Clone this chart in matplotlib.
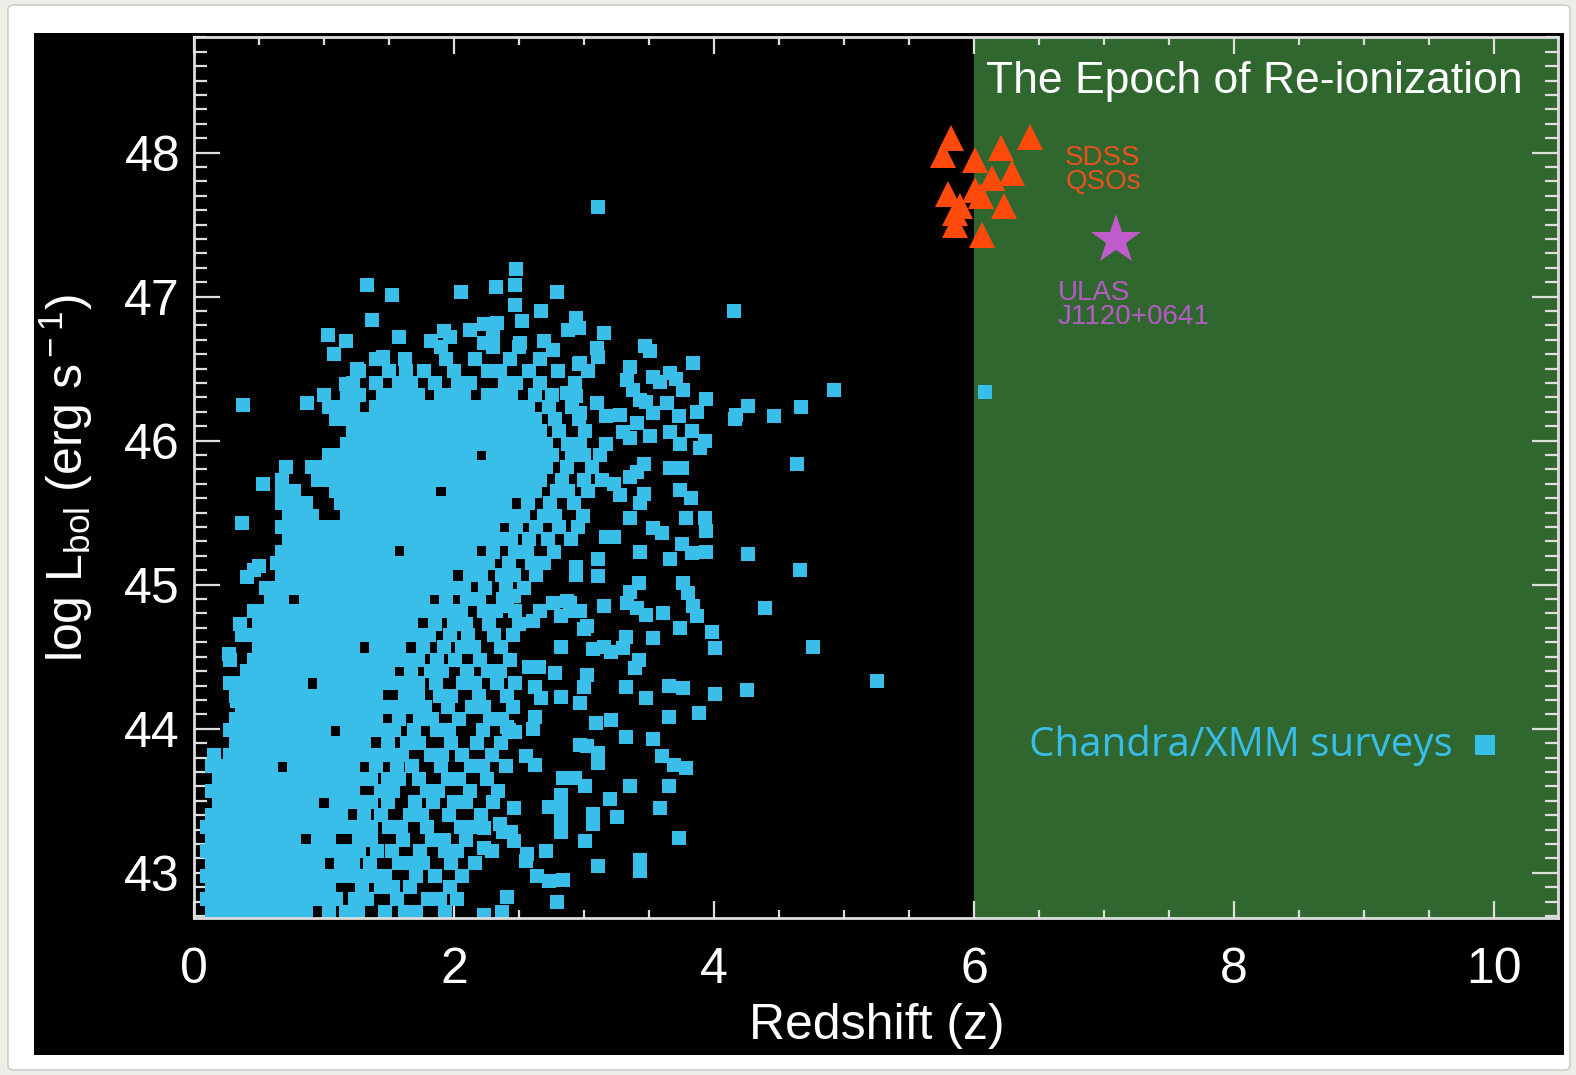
import matplotlib
matplotlib.use("Agg")
import matplotlib.pyplot as plt
from matplotlib.patches import Rectangle, FancyBboxPatch
from matplotlib.ticker import MultipleLocator

plt.rcParams['font.family'] = ['Liberation Sans', 'DejaVu Sans']
plt.rcParams['mathtext.fontset'] = 'custom'
plt.rcParams['mathtext.rm'] = 'Liberation Sans'
plt.rcParams['mathtext.it'] = 'Liberation Sans:italic'
plt.rcParams['mathtext.bf'] = 'Liberation Sans:bold'

# ---------------- data ----------------
# Chandra/XMM surveys: dense core, one list of redshifts per log L row
xmm_row_L = [42.73, 42.82, 42.90, 42.98, 43.07, 43.15, 43.23, 43.32, 43.40, 43.49,
             43.57, 43.65, 43.74, 43.82, 43.90, 43.99, 44.07, 44.15, 44.23, 44.32,
             44.40, 44.48, 44.57, 44.65, 44.73, 44.82, 44.90, 44.98, 45.07, 45.15,
             45.23, 45.32, 45.40, 45.48, 45.57, 45.65, 45.73, 45.82, 45.90, 45.98,
             46.07, 46.15, 46.23, 46.32, 46.40, 46.48, 46.57, 46.65]
xmm_row_z = [
    [0.14,0.23,0.32,0.41,0.50,0.59,0.68,0.77,0.86,1.04,1.17,1.26,1.47,1.62,1.71,1.93],
    [0.10,0.19,0.28,0.37,0.46,0.55,0.64,0.73,0.82,0.91,1.00,1.09,1.24,1.33,1.56,1.80,1.89,2.02],
    [0.14,0.23,0.32,0.41,0.50,0.59,0.68,0.77,0.86,0.95,1.04,1.29,1.44,1.53,1.66,1.97],
    [0.10,0.19,0.28,0.37,0.46,0.55,0.64,0.73,0.82,0.91,1.00,1.09,1.18,1.27,1.38,1.47,1.71,1.85,2.06],
    [0.14,0.23,0.32,0.41,0.50,0.59,0.68,0.77,0.86,0.95,1.13,1.22,1.35,1.58,1.67,1.76,1.98,2.16],
    [0.10,0.19,0.28,0.37,0.46,0.55,0.64,0.73,0.82,0.91,1.00,1.09,1.18,1.27,1.41,1.52,1.74,1.93,2.02,2.29],
    [0.14,0.23,0.32,0.41,0.50,0.59,0.68,0.77,0.95,1.04,1.27,1.36,1.61,1.83,1.92,2.09],
    [0.10,0.19,0.28,0.37,0.46,0.55,0.64,0.73,0.82,0.91,1.00,1.09,1.18,1.27,1.36,1.50,1.59,1.79,2.05,2.14],
    [0.14,0.23,0.32,0.41,0.50,0.59,0.68,0.77,0.86,0.95,1.04,1.13,1.31,1.44,1.66,1.75,1.96,2.21],
    [0.19,0.28,0.37,0.46,0.55,0.64,0.73,0.82,0.91,1.09,1.18,1.27,1.36,1.49,1.70,1.84,2.00,2.09,2.30],
    [0.14,0.23,0.32,0.41,0.50,0.59,0.68,0.77,0.86,0.95,1.04,1.13,1.22,1.44,1.53,1.79,1.88,2.12,2.34],
    [0.19,0.28,0.37,0.46,0.55,0.64,0.73,0.82,0.91,1.00,1.09,1.18,1.27,1.36,1.49,1.58,1.73,1.95,2.04,2.25],
    [0.14,0.23,0.32,0.41,0.50,0.59,0.77,0.86,0.95,1.04,1.13,1.22,1.40,1.56,1.68,1.90,2.13,2.22,2.40],
    [0.15,0.28,0.37,0.46,0.55,0.64,0.73,0.82,0.91,1.00,1.09,1.18,1.27,1.36,1.45,1.54,1.60,1.82,1.91,2.06,2.29],
    [0.32,0.41,0.50,0.59,0.68,0.77,0.86,0.95,1.04,1.13,1.22,1.31,1.49,1.64,1.73,1.98,2.18,2.36],
    [0.28,0.37,0.46,0.55,0.64,0.73,0.82,0.91,1.00,1.18,1.27,1.36,1.45,1.54,1.69,1.87,1.96,2.22,2.42],
    [0.32,0.41,0.50,0.59,0.68,0.77,0.86,0.95,1.04,1.13,1.22,1.31,1.40,1.58,1.74,1.83,2.04,2.28,2.37],
    [0.37,0.46,0.55,0.64,0.73,0.82,0.91,1.00,1.09,1.18,1.27,1.36,1.45,1.54,1.63,1.72,1.78,1.95,2.14,2.23,2.45],
    [0.32,0.41,0.50,0.59,0.68,0.77,0.86,0.95,1.04,1.13,1.22,1.31,1.40,1.62,1.72,1.89,1.98,2.19,2.41],
    [0.28,0.37,0.46,0.55,0.64,0.73,0.82,1.00,1.09,1.18,1.27,1.36,1.45,1.54,1.63,1.72,1.86,2.07,2.16,2.33,2.47],
    [0.41,0.50,0.59,0.68,0.77,0.86,0.95,1.04,1.13,1.22,1.31,1.40,1.49,1.67,1.82,1.91,2.10,2.26,2.35],
    [0.28,0.46,0.55,0.64,0.73,0.82,0.91,1.00,1.09,1.18,1.27,1.36,1.45,1.54,1.63,1.72,1.87,2.01,2.20,2.43],
    [0.50,0.59,0.68,0.77,0.86,0.95,1.04,1.13,1.22,1.40,1.49,1.58,1.76,1.92,2.06,2.15,2.36],
    [0.37,0.46,0.55,0.64,0.73,0.82,0.91,1.00,1.09,1.18,1.27,1.36,1.45,1.54,1.63,1.72,1.81,1.97,2.11,2.31,2.45],
    [0.50,0.59,0.68,0.77,0.86,0.95,1.04,1.13,1.22,1.31,1.40,1.49,1.58,1.67,1.85,2.00,2.09,2.27,2.50],
    [0.46,0.55,0.64,0.73,0.82,0.91,1.00,1.09,1.18,1.27,1.36,1.45,1.54,1.63,1.72,1.81,1.90,1.99,2.05,2.23,2.32,2.47],
    [0.59,0.68,0.86,0.95,1.04,1.13,1.22,1.31,1.40,1.49,1.58,1.67,1.76,1.94,2.10,2.19,2.38],
    [0.55,0.64,0.73,0.82,0.91,1.00,1.09,1.18,1.27,1.36,1.45,1.54,1.63,1.72,1.81,1.90,1.99,2.08,2.24,2.40,2.54],
    [0.68,0.77,0.86,0.95,1.04,1.13,1.22,1.31,1.40,1.49,1.58,1.67,1.76,1.85,1.94,2.12,2.21,2.37,2.46,2.63],
    [0.64,0.73,0.82,0.91,1.00,1.09,1.18,1.27,1.36,1.45,1.54,1.63,1.72,1.81,1.90,1.99,2.08,2.17,2.26,2.42,2.60,2.69],
    [0.68,0.77,0.86,0.95,1.04,1.13,1.22,1.31,1.40,1.49,1.67,1.76,1.85,1.94,2.03,2.12,2.30,2.47,2.56,2.77],
    [0.73,0.82,0.91,1.00,1.09,1.18,1.27,1.36,1.45,1.54,1.63,1.72,1.81,1.90,1.99,2.08,2.17,2.26,2.35,2.44,2.58,2.72,2.90],
    [0.68,0.77,0.86,0.95,1.04,1.13,1.22,1.31,1.40,1.49,1.58,1.67,1.76,1.85,1.94,2.03,2.12,2.21,2.30,2.48,2.63,2.81,2.95],
    [0.73,0.82,0.91,1.18,1.27,1.36,1.45,1.54,1.63,1.72,1.81,1.90,1.99,2.08,2.17,2.26,2.35,2.44,2.53,2.69,2.78,2.99],
    [0.68,0.77,0.86,1.13,1.22,1.31,1.40,1.49,1.58,1.67,1.76,1.85,1.94,2.03,2.12,2.21,2.30,2.39,2.57,2.74,2.92],
    [0.68,0.77,1.09,1.18,1.27,1.36,1.45,1.54,1.63,1.72,1.81,1.99,2.08,2.17,2.26,2.35,2.44,2.53,2.62,2.79,2.88,3.03],
    [0.68,0.95,1.04,1.13,1.22,1.31,1.40,1.49,1.58,1.67,1.76,1.85,1.94,2.03,2.12,2.21,2.30,2.39,2.48,2.57,2.66,2.83,3.00,3.14],
    [0.71,0.91,1.00,1.09,1.18,1.27,1.36,1.45,1.54,1.63,1.72,1.81,1.90,1.99,2.08,2.17,2.26,2.35,2.44,2.53,2.62,2.71,2.87,3.06],
    [1.04,1.13,1.22,1.31,1.40,1.49,1.58,1.67,1.76,1.85,1.94,2.03,2.12,2.30,2.39,2.48,2.57,2.66,2.75,2.91,3.00,3.12],
    [1.18,1.27,1.36,1.45,1.54,1.63,1.72,1.81,1.90,1.99,2.08,2.17,2.26,2.35,2.44,2.53,2.62,2.71,2.88,2.97,3.17],
    [1.22,1.31,1.40,1.49,1.58,1.67,1.76,1.85,1.94,2.03,2.12,2.21,2.30,2.39,2.48,2.57,2.66,2.81,3.01],
    [1.09,1.18,1.27,1.36,1.45,1.54,1.63,1.72,1.81,1.90,1.99,2.08,2.17,2.26,2.35,2.44,2.53,2.62,2.78,2.96],
    [1.04,1.13,1.22,1.40,1.49,1.58,1.67,1.76,1.85,1.94,2.03,2.12,2.21,2.30,2.39,2.48,2.57,2.73,2.91],
    [1.00,1.18,1.27,1.45,1.54,1.63,1.72,1.90,1.99,2.08,2.26,2.35,2.44,2.62,2.75],
    [1.22,1.40,1.58,1.67,1.85,2.03,2.12,2.39,2.48,2.66,2.93],
    [1.27,1.50,1.63,1.77,2.00,2.26,2.35,2.58,2.80],
    [1.40,1.62,1.94,2.16,2.43,2.66],
    [1.90,2.30,2.50],
]

# Chandra/XMM surveys: individual sources around the core
xmm_extra_z = [3.11, 4.15, 4.92, 6.08, 5.25, 4.76, 4.39, 4.66, 4.26, 4.25, 4.64, 4.67, 4.46, 4.26, 4.17,
               4.16, 3.94, 3.87, 3.84, 3.66, 3.71, 3.76, 3.53, 3.58, 3.35, 3.33, 3.38, 3.43, 3.48, 3.64,
               3.53, 3.73, 3.83, 3.93, 3.89, 3.66, 3.74, 3.51, 3.30, 3.35, 3.41, 3.28, 3.17, 3.10, 2.97,
               2.94, 2.87, 2.97, 3.03, 3.15, 2.94, 2.96, 2.88, 3.10, 3.11, 3.47, 3.51, 3.46, 3.41, 3.35,
               3.66, 3.75, 3.74, 3.82, 3.23, 3.28, 3.46, 3.43, 3.35, 3.53, 3.60, 3.78, 3.93, 3.94, 3.17,
               3.23, 3.43, 3.66, 3.75, 3.83, 3.94, 3.11, 3.11, 2.94, 2.94, 3.76, 3.80, 3.84, 3.87, 3.42,
               3.35, 3.33, 3.41, 3.48, 3.15, 3.61, 2.87, 2.92, 3.00, 3.74, 3.98, 4.01, 3.53, 3.32, 3.30,
               3.07, 3.15, 3.21, 3.42, 3.39, 3.02, 3.00, 3.32, 3.65, 3.76, 4.01, 3.48, 3.88, 3.65, 3.21,
               3.09, 3.32, 3.53, 3.60, 3.69, 3.78, 2.97, 3.02, 3.11, 3.11, 2.97, 2.78, 2.82, 2.58, 2.65,
               2.62, 2.67, 2.62, 2.61, 2.47, 2.55, 2.62, 2.84, 2.93, 3.01, 2.82, 2.82, 2.73, 3.20, 3.35,
               3.65, 3.58, 3.25, 3.07, 3.07, 2.82, 2.82, 2.46, 2.35, 2.44, 2.46, 2.23, 2.23, 3.01, 3.73,
               2.56, 2.55, 2.71, 3.11, 3.43, 3.43, 2.64, 2.73, 2.84, 2.41, 2.79, 2.37, 2.23, 2.76, 2.89,
               2.97, 2.66, 2.61, 3.02, 2.82, 2.46, 2.41, 2.82, 0.38, 0.87, 0.53, 0.37, 0.46, 0.41, 0.50,
               0.35, 0.40, 0.27, 0.33, 1.33, 1.52, 1.37, 2.05, 2.32, 2.47, 2.48, 2.47, 2.79, 2.67, 2.52,
               2.33, 2.23, 2.12, 1.92, 1.97, 1.82, 1.58, 1.03, 1.17, 1.08, 1.25, 1.17, 2.23, 2.30, 2.51,
               2.69, 2.76, 2.96, 1.45, 2.41, 2.38]
xmm_extra_L = [47.62, 46.90, 46.35, 46.34, 44.33, 44.57, 44.84, 45.10, 45.21, 44.27, 45.84, 46.23, 46.17, 46.24, 46.18,
               46.15, 46.29, 46.20, 46.54, 46.47, 46.43, 46.35, 46.44, 46.41, 46.51, 46.42, 46.35, 46.28, 46.27, 46.26,
               46.19, 46.17, 46.07, 46.00, 45.95, 46.06, 45.98, 46.03, 46.06, 46.02, 46.12, 46.18, 46.17, 46.26, 46.19,
               46.31, 46.33, 46.54, 46.48, 46.75, 46.85, 46.78, 46.77, 46.64, 46.58, 46.66, 46.62, 45.84, 45.78, 45.75,
               45.81, 45.81, 45.66, 45.60, 45.70, 45.62, 45.63, 45.57, 45.46, 45.39, 45.36, 45.46, 45.46, 45.37, 45.33,
               45.33, 45.23, 45.18, 45.28, 45.22, 45.23, 45.18, 45.06, 45.12, 45.07, 45.01, 44.94, 44.85, 44.78, 45.01,
               44.95, 44.87, 44.84, 44.79, 44.85, 44.80, 44.89, 44.82, 44.69, 44.70, 44.67, 44.56, 44.63, 44.64, 44.56,
               44.55, 44.57, 44.53, 44.48, 44.42, 44.37, 44.29, 44.29, 44.30, 44.28, 44.24, 44.21, 44.11, 44.08, 44.06,
               44.04, 43.94, 43.93, 43.81, 43.75, 43.73, 43.89, 43.88, 43.83, 43.76, 44.18, 44.39, 44.22, 44.43, 44.43,
               44.29, 44.21, 44.08, 44.00, 43.98, 43.81, 43.75, 43.66, 43.66, 43.60, 43.54, 43.47, 43.46, 43.51, 43.60,
               43.60, 43.45, 43.39, 43.41, 43.34, 43.37, 43.28, 43.45, 43.34, 43.28, 43.22, 43.31, 43.17, 43.22, 43.24,
               43.13, 43.08, 43.15, 43.05, 43.09, 43.01, 42.98, 42.94, 42.95, 42.83, 42.80, 42.73, 42.71, 44.87, 44.87,
               44.82, 44.82, 44.75, 44.71, 44.78, 44.92, 44.85, 44.57, 46.25, 46.26, 45.70, 45.43, 45.10, 45.05, 45.13,
               44.73, 44.65, 44.52, 44.19, 47.08, 47.01, 46.84, 47.03, 47.07, 47.08, 47.19, 46.94, 47.03, 46.90, 46.83,
               46.82, 46.81, 46.77, 46.76, 46.72, 46.69, 46.72, 46.73, 46.69, 46.60, 46.50, 46.39, 46.68, 46.72, 46.68,
               46.69, 46.63, 46.53, 46.58, 44.01, 43.28]

# SDSS QSOs (triangles)
sdss_z = [5.82, 5.76, 6.01, 6.21, 6.43, 6.29, 6.14, 6.01, 6.05, 5.80, 6.23, 5.85, 5.85, 6.06, 5.89]
sdss_L = [48.10, 47.98, 47.95, 48.03, 48.11, 47.86, 47.82, 47.74, 47.70, 47.71, 47.63, 47.58, 47.50, 47.43, 47.63]

# ULAS J1120+0641 (star)
ulas_z = [7.09]
ulas_L = [47.39]

# axis settings
x_limits = [0.0, 10.49]
y_limits = [42.686, 48.80]
x_ticks = [0, 2, 4, 6, 8, 10]
y_ticks = [43, 44, 45, 46, 47, 48]
reion_start = 6.0

# ---------------- styling ----------------
W, H = 1576, 1075
C_SQ = '#39bde9'
C_TRI = '#ff4a0c'
C_STAR = '#c05ccc'
C_GREEN = '#2f672f'
C_AX = '#dedede'

fig = plt.figure(figsize=(W / 100, H / 100), dpi=100)
fig.patch.set_facecolor('#efede8')

def fx(px):
    return px / W

def fy(py):
    return 1 - py / H

card = FancyBboxPatch((fx(8), fy(1070)), fx(1570) - fx(8), fy(5) - fy(1070),
                      boxstyle='round,pad=0,rounding_size=0.004', transform=fig.transFigure,
                      facecolor='white', edgecolor='#cfcdc8', linewidth=1.2, zorder=-3)
fig.add_artist(card)
panel = Rectangle((fx(34), fy(1055)), fx(1564) - fx(34), fy(33) - fy(1055),
                  transform=fig.transFigure, facecolor='black', edgecolor='none', zorder=-2)
fig.add_artist(panel)

ax = fig.add_axes([fx(194), fy(918), fx(1558) - fx(194), fy(37.3) - fy(918)])
ax.set_facecolor('black')
ax.set_xlim(*x_limits)
ax.set_ylim(*y_limits)

ax.axvspan(reion_start, x_limits[1], facecolor=C_GREEN, edgecolor='none', zorder=0.5)

# XMM squares
for Lrow, zlist in zip(xmm_row_L, xmm_row_z):
    ax.plot(zlist, [Lrow] * len(zlist), linestyle='none', marker='s', markersize=9.4,
            markerfacecolor=C_SQ, markeredgewidth=0, zorder=2)
ax.plot(xmm_extra_z, xmm_extra_L, linestyle='none', marker='s', markersize=9.4,
        markerfacecolor=C_SQ, markeredgewidth=0, zorder=2)

# SDSS triangles
ax.plot(sdss_z, sdss_L, linestyle='none', marker='^', markersize=19,
        markerfacecolor=C_TRI, markeredgewidth=0, zorder=3)
# ULAS star
ax.plot(ulas_z, ulas_L, linestyle='none', marker='*', markersize=38,
        markerfacecolor=C_STAR, markeredgewidth=0, zorder=3)

# annotations
ax.text(6.09, 48.41, 'The Epoch of Re-ionization', color='white', fontsize=32,
        ha='left', va='baseline', zorder=4)
ax.text(6.70, 47.915, 'SDSS', color='#e8521f', fontsize=20, ha='left', va='baseline', zorder=4)
ax.text(6.70, 47.748, 'QSOs', color='#e8521f', fontsize=20, ha='left', va='baseline', zorder=4)
ax.text(6.64, 46.977, 'ULAS', color='#b45cc4', fontsize=20, ha='left', va='baseline', zorder=4)
ax.text(6.64, 46.81, 'J1120+0641', color='#b45cc4', fontsize=20, ha='left', va='baseline', zorder=4)
ax.text(6.42, 43.81, 'Chandra/XMM surveys', color=C_SQ, fontsize=29, family='Open Sans',
        ha='left', va='baseline', zorder=4)
ax.plot([9.93], [43.89], linestyle='none', marker='s', markersize=14.5,
        markerfacecolor=C_SQ, markeredgewidth=0, zorder=4)

# axes styling
for sp in ax.spines.values():
    sp.set_color(C_AX)
    sp.set_linewidth(2.0)
    sp.set_zorder(5)
ax.set_xticks(x_ticks)
ax.set_yticks(y_ticks)
ax.xaxis.set_minor_locator(MultipleLocator(0.5))
ax.yaxis.set_minor_locator(MultipleLocator(0.1))
ax.tick_params(which='both', direction='in', top=True, right=True, color=C_AX,
               width=1.6, labelcolor='white', labelsize=36)
ax.tick_params(axis='x', which='major', length=12, pad=21)
ax.tick_params(axis='x', which='minor', length=6)
ax.tick_params(axis='y', which='major', length=19, pad=10)
ax.tick_params(axis='y', which='minor', length=9.5)

fig.text(fx(877), fy(1026), 'Redshift (z)', color='white', fontsize=36, ha='center', va='center')
fig.text(fx(66), fy(478), r'log L$_{\rm bol}$ (erg s$^{\rm -1}$)', color='white', fontsize=36,
         rotation=90, ha='center', va='center')

fig.savefig('out.png', dpi=100, facecolor=fig.get_facecolor())
